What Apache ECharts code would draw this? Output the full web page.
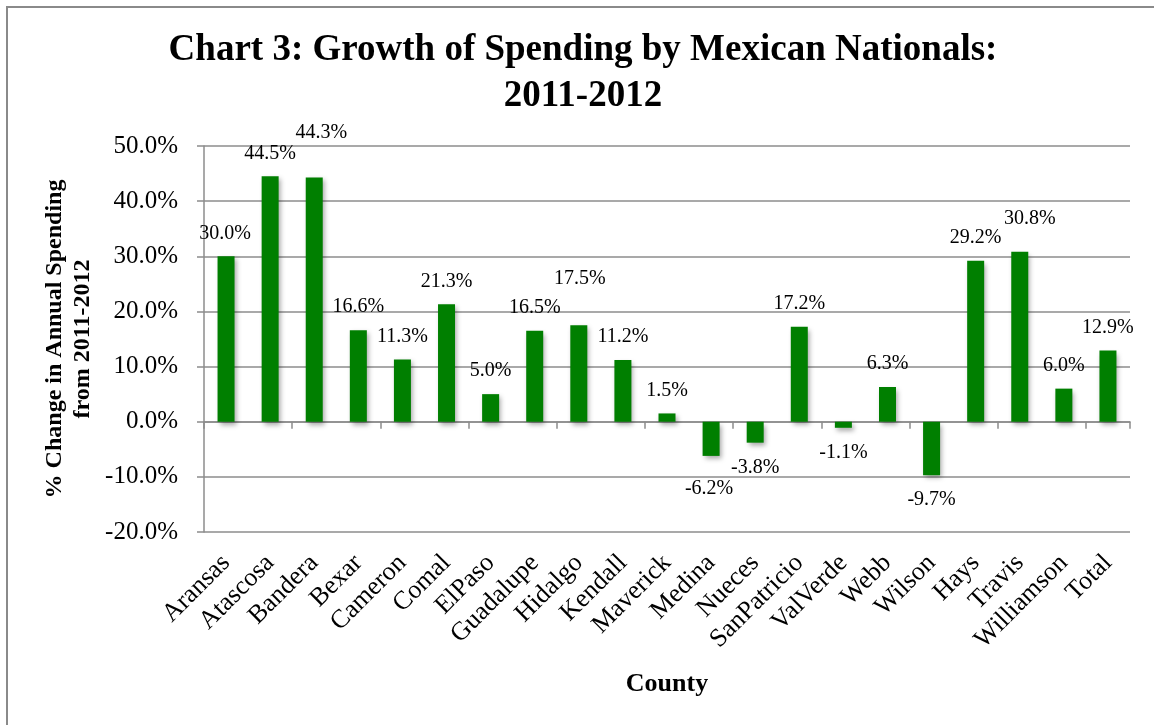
<!DOCTYPE html>
<html>
<head>
<meta charset="utf-8">
<script src="https://cdn.jsdelivr.net/npm/echarts@6/dist/echarts.min.js"></script>
<style>
  html, body { margin: 0; padding: 0; background: #fff; }
  #chart { width: 1154px; height: 725px; }
</style>
</head>
<body>
<div id="chart"></div>
<script>
// Counties along the category axis
const counties = ['Aransas', 'Atascosa', 'Bandera', 'Bexar', 'Cameron', 'Comal', 'ElPaso',
  'Guadalupe', 'Hidalgo', 'Kendall', 'Maverick', 'Medina', 'Nueces', 'SanPatricio',
  'ValVerde', 'Webb', 'Wilson', 'Hays', 'Travis', 'Williamson', 'Total'];

// % change in annual spending, 2011-2012
const pctChange = [30.0, 44.5, 44.3, 16.6, 11.3, 21.3, 5.0,
  16.5, 17.5, 11.2, 1.5, -6.2, -3.8, 17.2,
  -1.1, 6.3, -9.7, 29.2, 30.8, 6.0, 12.9];

// Value axis range and step (percent)
const yMin = -20;
const yMax = 50;
const yStep = 10;

const SERIF = '"Times New Roman", "Liberation Serif", serif';
const GRID_GRAY = '#8c8c8c';
const BAR_GREEN = '#007f00';

// A few value labels sit away from their default spot
const labelNudge = {
  Aransas: [-1, 0],
  Bandera: [7, -22],
  Hidalgo: [1, -23],
  Travis: [10, -10],
  Medina: [-2, 8]
};

const fmtPct = v => v.toFixed(1) + '%';

const barData = pctChange.map((v, i) => {
  const neg = v < 0;
  return {
    value: v,
    label: {
      position: neg ? 'bottom' : 'top',
      distance: neg ? 15 : 13,
      offset: labelNudge[counties[i]] || [0, 0]
    }
  };
});

const chart = echarts.init(document.getElementById('chart'), null, { renderer: 'canvas' });

chart.setOption({
  backgroundColor: '#ffffff',
  animation: false,
  title: {
    text: 'Chart 3: Growth of Spending by Mexican Nationals:\n2011-2012',
    left: 583,
    top: 27,
    padding: 0,
    textAlign: 'center',
    textStyle: {
      fontFamily: SERIF,
      fontSize: 37,
      fontWeight: 'bold',
      color: '#000',
      lineHeight: 46
    }
  },
  grid: { left: 204, right: 24, top: 146, bottom: 193, containLabel: false },
  xAxis: [
    {
      // category labels along the bottom edge of the plot
      type: 'category',
      data: counties,
      position: 'bottom',
      axisLine: { show: false, onZero: false },
      axisTick: { show: false },
      axisLabel: {
        interval: 0,
        rotate: 45,
        margin: 27,
        fontFamily: SERIF,
        fontSize: 26,
        color: '#000'
      },
      splitLine: { show: false }
    },
    {
      // baseline at 0% with tick marks between counties
      type: 'category',
      data: counties,
      position: 'top',
      axisLine: { show: true, onZero: true, lineStyle: { color: GRID_GRAY, width: 1.5 } },
      axisTick: { show: true, inside: true, length: 7, lineStyle: { color: GRID_GRAY, width: 1.5 } },
      axisLabel: { show: false },
      splitLine: { show: false }
    }
  ],
  yAxis: {
    type: 'value',
    min: yMin,
    max: yMax,
    interval: yStep,
    axisLine: { show: true, lineStyle: { color: GRID_GRAY, width: 1.5 } },
    axisTick: { show: true, length: 7, lineStyle: { color: GRID_GRAY, width: 1.5 } },
    axisLabel: {
      margin: 26,
      formatter: v => fmtPct(v),
      fontFamily: SERIF,
      fontSize: 25,
      color: '#000'
    },
    splitLine: { show: true, lineStyle: { color: GRID_GRAY, width: 1.5 } }
  },
  series: [
    {
      type: 'bar',
      xAxisIndex: 0,
      data: barData,
      barWidth: 17,
      itemStyle: {
        color: BAR_GREEN,
        shadowColor: 'rgba(0,0,0,0.35)',
        shadowBlur: 5,
        shadowOffsetX: 2,
        shadowOffsetY: 3
      },
      label: {
        show: true,
        formatter: p => fmtPct(p.value),
        fontFamily: SERIF,
        fontSize: 20,
        color: '#000'
      }
    }
  ],
  graphic: [
    {
      // chart frame (left and top edges)
      type: 'polyline',
      shape: { points: [[7, 725], [7, 7], [1154, 7]] },
      style: { stroke: '#8a8a8a', lineWidth: 2, fill: null },
      silent: true
    },
    {
      type: 'text',
      x: 69,
      y: 339,
      rotation: Math.PI / 2,
      style: {
        text: '% Change in Annual Spending\nfrom 2011-2012',
        fontFamily: SERIF,
        fontSize: 24,
        fontWeight: 'bold',
        lineHeight: 28,
        align: 'center',
        verticalAlign: 'middle',
        fill: '#000'
      }
    },
    {
      type: 'text',
      x: 667,
      y: 684,
      style: {
        text: 'County',
        fontFamily: SERIF,
        fontSize: 26,
        fontWeight: 'bold',
        align: 'center',
        verticalAlign: 'middle',
        fill: '#000'
      }
    }
  ]
});
</script>
</body>
</html>
